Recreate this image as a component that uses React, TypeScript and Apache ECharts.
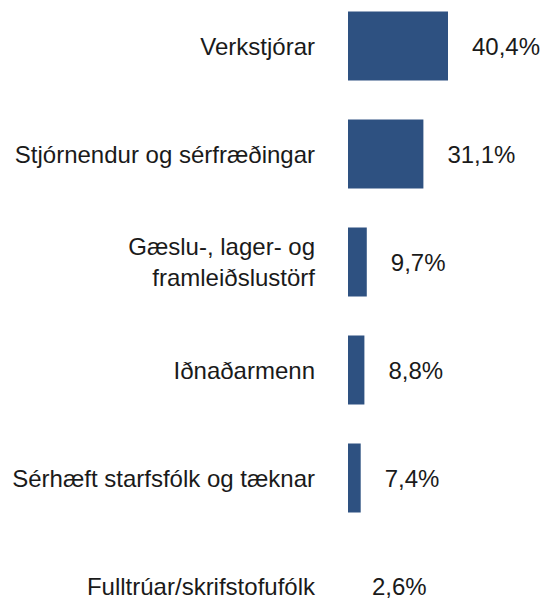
import React, { useEffect, useRef } from "react";
import * as echarts from "echarts";

const categories = [
  "Verkstjórar",
  "Stjórnendur og sérfræðingar",
  "Gæslu-, lager- og\nframleiðslustörf",
  "Iðnaðarmenn",
  "Sérhæft starfsfólk og tæknar",
  "Fulltrúar/skrifstofufólk",
];
const values = [40.4, 31.1, 9.7, 8.8, 7.4, 2.6];

export default function App() {
  const ref = useRef<HTMLDivElement>(null);
  useEffect(() => {
    if (!ref.current) return;
    const chart = echarts.init(ref.current, null, { renderer: "svg" });
    const font = "'Liberation Sans', Arial, Helvetica, sans-serif";
    chart.setOption({
      animation: false,
      grid: { left: 348, right: 98, top: 0, bottom: 0, containLabel: false },
      xAxis: {
        type: "value",
        min: 2.6,
        max: 40.4,
        show: false,
      },
      yAxis: {
        type: "category",
        data: categories,
        inverse: true,
        axisLine: { show: false },
        axisTick: { show: false },
        splitLine: { show: false },
        axisLabel: {
          margin: 33,
          color: "#1a1a1a",
          fontSize: 24,
          fontFamily: font,
          lineHeight: 31,
          align: "right",
        },
      },
      series: [
        {
          type: "bar",
          data: values,
          barCategoryGap: "36%",
          itemStyle: { color: "#2e5181" },
          label: {
            show: true,
            position: "right",
            distance: 24,
            color: "#1a1a1a",
            fontSize: 24,
            fontFamily: font,
            formatter: (p: any) => p.value.toFixed(1).replace(".", ",") + "%",
          },
        },
      ],
    });
    return () => chart.dispose();
  }, []);
  return (
    <div style={{ position: "fixed", left: 0, top: 0, width: 546, height: 602, overflow: "hidden", background: "#fff" }}>
      <div
        ref={ref}
        style={{ position: "absolute", left: 0, top: -8.5, width: 546, height: 648 }}
      />
    </div>
  );
}
